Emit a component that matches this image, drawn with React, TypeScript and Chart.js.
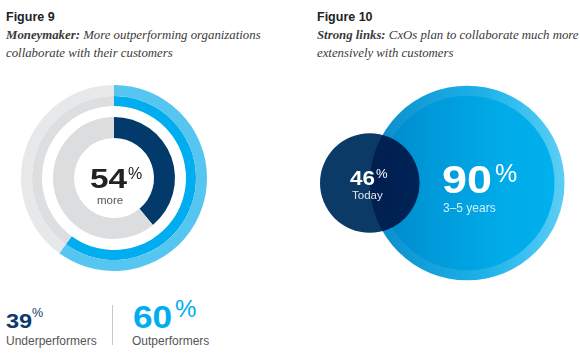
import React, { useEffect, useRef } from 'react';
import Chart from 'chart.js/auto';

// ---- Figure 9 data ----
const perfLabels = ['Underperformers', 'Outperformers'];
const perfValues = [39, 60];
const perfLift = 54;
const perfLiftLabel = 'more';

// ---- Figure 10 data ----
const horizonLabels = ['Today', '3–5 years'];
const horizonValues = [46, 90];

const SANS = '"Liberation Sans", Arial, Helvetica, sans-serif';
const SERIF = '"Liberation Serif", "Times New Roman", serif';

type TProps = {
  x: number;
  base: number;
  size: number;
  weight?: number;
  color?: string;
  family?: string;
  italic?: boolean;
  sx?: number;
  children?: React.ReactNode;
};

const T = ({ x, base, size, weight = 400, color = '#333', family = SANS, italic = false, sx = 1, children }: TProps) => (
  <div
    style={{
      position: 'absolute',
      left: x,
      top: base - 0.85 * size,
      fontSize: size,
      lineHeight: `${size}px`,
      fontFamily: family,
      fontWeight: weight,
      fontStyle: italic ? 'italic' : 'normal',
      color,
      whiteSpace: 'nowrap',
      transform: sx !== 1 ? `scaleX(${sx})` : undefined,
      transformOrigin: 'left top',
    }}
  >
    {children}
  </div>
);

const arcBase = { borderWidth: 0, hoverBorderWidth: 0, offset: 0, hoverOffset: 0 };

function DonutChart() {
  const ref = useRef<HTMLCanvasElement>(null);
  useEffect(() => {
    if (!ref.current) return;
    const [under, out] = perfValues;
    const chart = new Chart(ref.current, {
      type: 'doughnut',
      data: {
        labels: ['share', 'rest'],
        datasets: [
          { ...arcBase, label: perfLabels[1], data: [out, 100 - out], backgroundColor: ['#56c6f0', '#e7e8ea'], weight: 11 },
          { ...arcBase, label: perfLabels[1], data: [out, 100 - out], backgroundColor: ['#00adee', '#dddee0'], weight: 10 },
          { ...arcBase, label: '', data: [], weight: 11 },
          { ...arcBase, label: perfLabels[0], data: [under, 100 - under], backgroundColor: ['#023b6b', '#dcdddf'], weight: 21 },
        ],
      },
      options: {
        responsive: false,
        animation: false,
        cutout: 40,
        layout: { padding: 0 },
        plugins: { legend: { display: false }, tooltip: { enabled: false } },
        events: [],
      },
    });
    return () => chart.destroy();
  }, []);
  return (
    <canvas ref={ref} width={186} height={186} style={{ position: 'absolute', left: 21, top: 85, width: 186, height: 186 }} />
  );
}

const multiplyPlugin = {
  id: 'multiplyOverlap',
  beforeDatasetDraw(chart: any, args: any) {
    if (args.index === 0) {
      chart.ctx.save();
      chart.ctx.globalCompositeOperation = 'multiply';
    }
  },
  afterDatasetDraw(chart: any, args: any) {
    if (args.index === 0) chart.ctx.restore();
  },
};

function BubbleChart() {
  const ref = useRef<HTMLCanvasElement>(null);
  useEffect(() => {
    if (!ref.current) return;
    const [today, future] = horizonValues;
    // x positions: "Today" at 0; the future circle's left edge passes through the centre of "Today"
    const xPos = [0, future];
    const bubbleGeom = (c: any) => {
      const s = c.chart.scales && c.chart.scales.x;
      const cx = s ? s.getPixelForValue(future) : NaN;
      const r = s ? s.getPixelForValue(2 * future) - cx : NaN;
      return Number.isFinite(cx) && Number.isFinite(r) && r > 0 ? { cx, r } : null;
    };
    const bigFill = (c: any) => {
      const g0 = bubbleGeom(c);
      if (!g0) return '#00a9e6';
      const g = c.chart.ctx.createLinearGradient(g0.cx - g0.r, 0, g0.cx + g0.r, 0);
      g.addColorStop(0, '#0085c6');
      g.addColorStop(0.3, '#0098d8');
      g.addColorStop(0.65, '#00aae7');
      g.addColorStop(1, '#00b2ef');
      return g;
    };
    const bigRim = (c: any) => {
      const g0 = bubbleGeom(c);
      if (!g0) return 'rgba(255,255,255,0.2)';
      const g = c.chart.ctx.createLinearGradient(g0.cx - g0.r, 0, g0.cx + g0.r, 0);
      g.addColorStop(0, 'rgba(255,255,255,0.04)');
      g.addColorStop(0.6, 'rgba(255,255,255,0.12)');
      g.addColorStop(1, 'rgba(255,255,255,0.36)');
      return g;
    };
    const chart = new Chart(ref.current, {
      type: 'bubble',
      data: {
        datasets: [
          {
            label: horizonLabels[0],
            data: [{ x: xPos[0], y: 0 }],
            backgroundColor: '#0b3a66',
            borderWidth: 0,
            clip: false,
          },
          {
            label: horizonLabels[1],
            data: [{ x: xPos[1], y: 0 }],
            backgroundColor: bigFill,
            borderColor: bigRim,
            borderWidth: 20,
            clip: false,
          },
        ],
      },
      options: {
        responsive: false,
        animation: false,
        layout: { autoPadding: false, padding: { left: 30, right: 15.5, top: 15.5, bottom: 19.5 } },
        scales: {
          x: { type: 'linear', min: -today, max: 2 * future, display: false },
          y: { type: 'linear', min: -1, max: 1, display: false },
        },
        plugins: { legend: { display: false }, tooltip: { enabled: false } },
        events: [],
      },
      plugins: [multiplyPlugin],
    });
    // radius in pixels = value measured along the x scale
    const sx = chart.scales.x;
    const pxPerUnit = sx.getPixelForValue(1) - sx.getPixelForValue(0);
    chart.data.datasets.forEach((ds: any, i: number) => {
      ds.data = [{ x: xPos[i], y: 0, r: horizonValues[i] * pxPerUnit }];
    });
    chart.update();
    return () => chart.destroy();
  }, []);
  return (
    <canvas ref={ref} width={290} height={230} style={{ position: 'absolute', left: 290, top: 70, width: 290, height: 230 }} />
  );
}

export default function App() {
  const navy = '#0b3b6b';
  const cyan = '#00aeef';
  const grey = '#555';
  const sub = '#3a3a3a';
  const subSize = 12.8;
  return (
    <div style={{ position: 'fixed', left: 0, top: 0, width: 580, height: 358, background: '#fff', overflow: 'hidden' }}>
      {/* Figure 9 header */}
      <T x={6} base={22} size={12.5} weight={700} color="#222">Figure 9</T>
      <T x={6} base={40} size={subSize} family={SERIF} italic color={sub}>
        <b>Moneymaker:</b> More outperforming organizations
      </T>
      <T x={6} base={58} size={subSize} family={SERIF} italic color={sub}>collaborate with their customers</T>

      {/* Figure 10 header */}
      <T x={317} base={22} size={12.5} weight={700} color="#222">Figure 10</T>
      <T x={317} base={40} size={subSize} family={SERIF} italic color={sub}>
        <b>Strong links:</b> CxOs plan to collaborate much more
      </T>
      <T x={317} base={58} size={subSize} family={SERIF} italic color={sub}>extensively with customers</T>

      <DonutChart />
      <BubbleChart />

      {/* donut centre */}
      <T x={90} base={188} size={28.5} weight={700} color="#222" sx={1.17}>{perfLift}</T>
      <T x={128} base={180} size={16} color="#222">%</T>
      <T x={97} base={205} size={11.5} color={grey}>{perfLiftLabel}</T>

      {/* bottom legend */}
      <T x={6} base={328} size={21} weight={700} color={navy} sx={1.12}>{perfValues[0]}</T>
      <T x={32} base={318} size={12.5} color={navy}>%</T>
      <T x={6} base={345} size={12} color={grey}>{perfLabels[0]}</T>
      <div style={{ position: 'absolute', left: 112, top: 305, width: 1, height: 40, background: '#c8c8c8' }} />
      <T x={133} base={328} size={32} weight={700} color={cyan} sx={1.1}>{perfValues[1]}</T>
      <T x={175} base={317} size={24} color={cyan}>%</T>
      <T x={132} base={345} size={12} color={grey}>{perfLabels[1]}</T>

      {/* bubble labels */}
      <T x={350} base={185} size={20} weight={700} color="#fff" sx={1.12}>{horizonValues[0]}</T>
      <T x={376} base={178} size={13} color="#fff">%</T>
      <T x={352} base={200} size={11.5} color="#dfe6ee">{horizonLabels[0]}</T>
      <T x={442} base={193} size={39} weight={700} color="#fff" sx={1.15}>{horizonValues[1]}</T>
      <T x={495} base={182} size={25} color="#fff">%</T>
      <T x={443} base={212} size={12} color="#d2effb">{horizonLabels[1]}</T>
    </div>
  );
}
